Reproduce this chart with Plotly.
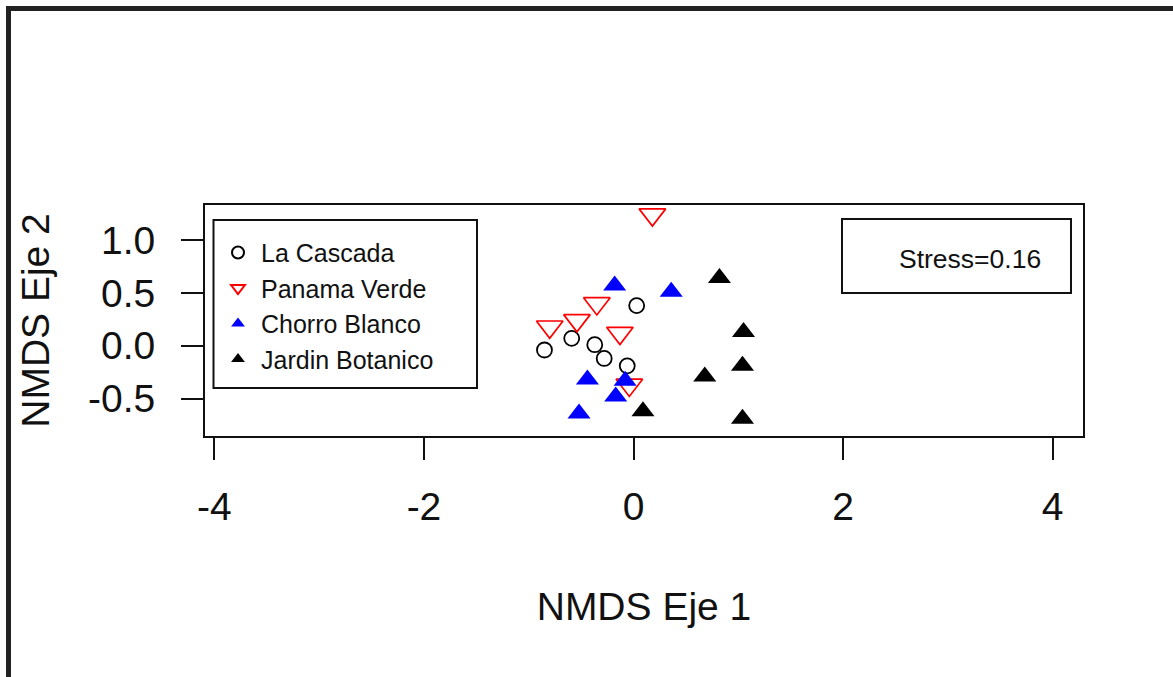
import plotly.graph_objects as go

# NMDS site scores (axis 1, axis 2) for each locality
la_cascada_x = [0.03, -0.85, -0.59, -0.37, -0.28, -0.06]
la_cascada_y = [0.38, -0.04, 0.07, 0.01, -0.12, -0.19]

panama_verde_x = [0.18, -0.80, -0.54, -0.35, -0.13, -0.04]
panama_verde_y = [1.24, 0.18, 0.24, 0.40, 0.12, -0.37]

chorro_blanco_x = [-0.18, 0.36, -0.44, -0.08, -0.17, -0.52]
chorro_blanco_y = [0.57, 0.51, -0.32, -0.33, -0.48, -0.64]

jardin_botanico_x = [0.82, 0.09, 1.05, 1.04, 0.68, 1.04]
jardin_botanico_y = [0.64, -0.62, 0.13, -0.19, -0.29, -0.69]

stress_value = 0.16

x_ticks = [-4, -2, 0, 2, 4]
y_ticks = [-0.5, 0.0, 0.5, 1.0]
y_tick_text = ["-0.5", "0.0", "0.5", "1.0"]

FONT = "Liberation Sans, Arial, sans-serif"
W, H = 1173, 677
L, R, T, B = 205, 90, 205, 241
PW, PH = W - L - R, H - T - B


def px_x(p):
    return (p - L) / PW


def px_y(p):
    return (H - B - p) / PH


fig = go.Figure()

fig.add_trace(go.Scatter(
    x=la_cascada_x, y=la_cascada_y, mode="markers", name="La Cascada",
    marker=dict(symbol="circle-open", size=15, color="black",
                line=dict(width=1.8, color="black")),
))
fig.add_trace(go.Scatter(
    x=panama_verde_x, y=panama_verde_y, mode="markers", name="Panama Verde",
    marker=dict(symbol="triangle-down-open", size=23, color="#ff0000",
                line=dict(width=1.7, color="#ff0000")),
))
fig.add_trace(go.Scatter(
    x=chorro_blanco_x, y=chorro_blanco_y, mode="markers", name="Chorro Blanco",
    marker=dict(symbol="triangle-up", size=20, color="#0000ff",
                line=dict(width=0)),
))
fig.add_trace(go.Scatter(
    x=jardin_botanico_x, y=jardin_botanico_y, mode="markers", name="Jardin Botanico",
    marker=dict(symbol="triangle-up", size=20, color="black",
                line=dict(width=0)),
))

axis_common = dict(
    showgrid=False, zeroline=False,
    showline=True, linecolor="#111", linewidth=2, mirror=True,
    ticks="outside", ticklen=22, tickwidth=2, tickcolor="#111",
    tickfont=dict(family=FONT, size=39, color="#111"),
)

fig.update_xaxes(
    range=[-4.09, 4.29], tickvals=x_ticks, ticktext=[str(v) for v in x_ticks],
    ticklabelstandoff=13,
    title=dict(text="NMDS Eje 1", font=dict(family=FONT, size=39, color="#111"),
               standoff=66),
    **axis_common,
)
fig.update_yaxes(
    range=[-0.853, 1.331], tickvals=y_ticks, ticktext=y_tick_text,
    ticklabelstandoff=18,
    title=dict(text="NMDS Eje 2", font=dict(family=FONT, size=39, color="#111"),
               standoff=26),
    **axis_common,
)

shapes = [
    # outer frame, top and left edges
    dict(type="line", xref="paper", yref="paper",
         x0=px_x(8.5), x1=px_x(1180), y0=px_y(8.5), y1=px_y(8.5),
         line=dict(color="#222", width=5)),
    dict(type="line", xref="paper", yref="paper",
         x0=px_x(8.5), x1=px_x(8.5), y0=px_y(6), y1=px_y(690),
         line=dict(color="#222", width=5)),
    # legend box
    dict(type="rect", xref="paper", yref="paper",
         x0=px_x(213.5), x1=px_x(477), y0=px_y(388), y1=px_y(220),
         line=dict(color="#111", width=2), fillcolor="white", layer="above"),
    # stress box
    dict(type="rect", xref="paper", yref="paper",
         x0=px_x(842), x1=px_x(1071), y0=px_y(293), y1=px_y(219),
         line=dict(color="#111", width=2), fillcolor="white", layer="above"),
]

annotations = [
    dict(text=f"Stress={stress_value:.2f}", xref="paper", yref="paper",
         x=px_x(970), y=px_y(259), xanchor="center", yanchor="middle",
         showarrow=False, font=dict(family=FONT, size=26.5, color="#111")),
]

fig.update_layout(
    width=W, height=H,
    margin=dict(l=L, r=R, t=T, b=B, autoexpand=False),
    paper_bgcolor="white", plot_bgcolor="white",
    shapes=shapes, annotations=annotations,
    showlegend=True,
    legend=dict(
        x=px_x(215), y=px_y(222), xanchor="left", yanchor="top",
        bgcolor="rgba(0,0,0,0)", borderwidth=0,
        font=dict(family=FONT, size=25, color="#111"),
        title=dict(text=" ", font=dict(size=6)),
        itemsizing="constant", itemwidth=36, tracegroupgap=0,
    ),
)

fig.write_html("out.html")
